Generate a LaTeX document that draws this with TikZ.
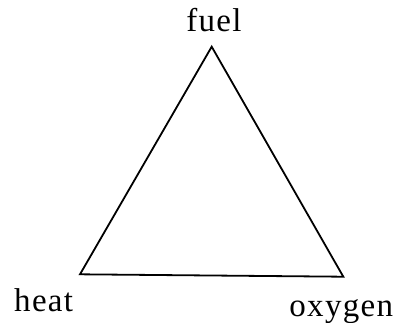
\documentclass[tikz,border=0pt]{standalone}
\usepackage{fontspec}
\setmainfont{Liberation Serif}[LetterSpace=4]
\begin{document}
\begin{tikzpicture}[x=1pt,y=-1pt,
  lbl/.style={font=\fontsize{33}{36}\selectfont, inner sep=0pt, anchor=base},
  edge/.style={line width=1.8pt, line join=miter}]
\useasboundingbox (0,0) rectangle (395,322);
\coordinate (top) at (211.7,46.7);
\coordinate (left) at (80,274.3);
\coordinate (right) at (343.3,276.7);
\draw[edge] (top) -- (left) -- (right) -- cycle;
\node[lbl] (fuel) at (214,31.7) {fuel};
\node[lbl] (heat) at (43.7,311) {heat};
\node[lbl] (oxygen) at (341.3,316) {oxygen};
\end{tikzpicture}
\end{document}
